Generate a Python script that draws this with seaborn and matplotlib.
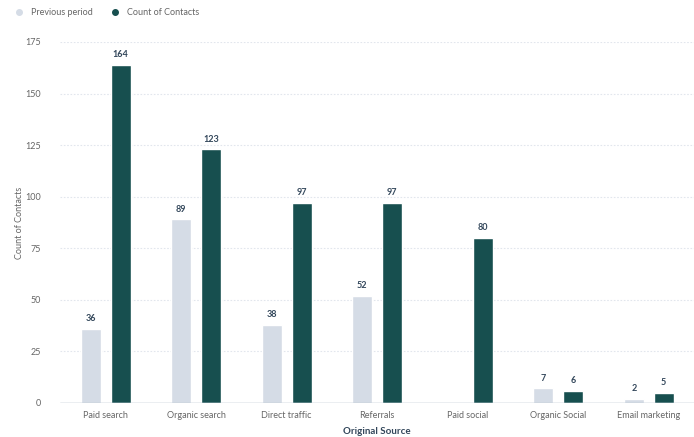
import numpy as np
import pandas as pd
import matplotlib
matplotlib.use("Agg")
import matplotlib.pyplot as plt
import seaborn as sns
from matplotlib.lines import Line2D

categories = ["Paid search", "Organic search", "Direct traffic", "Referrals",
              "Paid social", "Organic Social", "Email marketing"]
previous_period = [36, 89, 38, 52, np.nan, 7, 2]
count_of_contacts = [164, 123, 97, 97, 80, 6, 5]
series_names = ["Previous period", "Count of Contacts"]
y_ticks = [0, 25, 50, 75, 100, 125, 150, 175]

colors = {"Previous period": "#d5dce6", "Count of Contacts": "#174f4f"}

df = pd.DataFrame({
    "Original Source": categories * 2,
    "Series": [series_names[0]] * len(categories) + [series_names[1]] * len(categories),
    "Value": previous_period + count_of_contacts,
})

sns.set_style("white")
plt.rcParams["font.family"] = ["Lato", "DejaVu Sans"]

fig = plt.figure(figsize=(6.94, 4.37), dpi=100)
ax = fig.add_axes([0.087, 0.078, 0.913, 0.826])

sns.barplot(data=df, x="Original Source", y="Value", hue="Series",
            hue_order=series_names, order=categories, palette=colors,
            width=0.66, gap=0.33, ax=ax, legend=False, saturation=1)

for p in ax.patches:
    h = p.get_height()
    if h is None or np.isnan(h):
        continue
    ax.annotate(f"{int(round(h))}", (p.get_x() + p.get_width() / 2, h),
                xytext=(0, 4), textcoords="offset points", ha="center", va="bottom",
                fontsize=6.5, fontweight="bold", color="#33475b")

ax.set_ylim(0, 175)
ax.set_xlim(-0.5, len(categories) - 0.5)
ax.set_yticks(y_ticks)
ax.set_yticklabels([str(t) for t in y_ticks])
ax.tick_params(axis="both", length=0, labelsize=6.5, colors="#666666")
ax.tick_params(axis="y", pad=14)
ax.tick_params(axis="x", pad=6)
for t in y_ticks[1:]:
    ax.axhline(t, color="#e2e6ed", lw=0.8, ls=(0, (1.5, 1.5)), zorder=0)
ax.axhline(0, color="#99aabb", lw=1.0, zorder=3)

for s in ax.spines.values():
    s.set_visible(False)

ax.set_xlabel("Original Source", fontsize=7, fontweight="bold", color="#33475b", labelpad=5)
ax.set_ylabel("Count of Contacts", fontsize=6.5, color="#666666")
ax.yaxis.set_label_coords(-0.058, 0.5)

handles = [Line2D([0], [0], marker="o", linestyle="", markersize=4,
                  markerfacecolor=colors[n], markeredgecolor=colors[n]) for n in series_names]
fig.legend(handles, series_names, loc="upper left", bbox_to_anchor=(0.003, 1.0),
           ncol=2, frameon=False, fontsize=6.5, handletextpad=0.3, columnspacing=1.5,
           labelcolor="#666666")

fig.savefig("out.png", dpi=100)
